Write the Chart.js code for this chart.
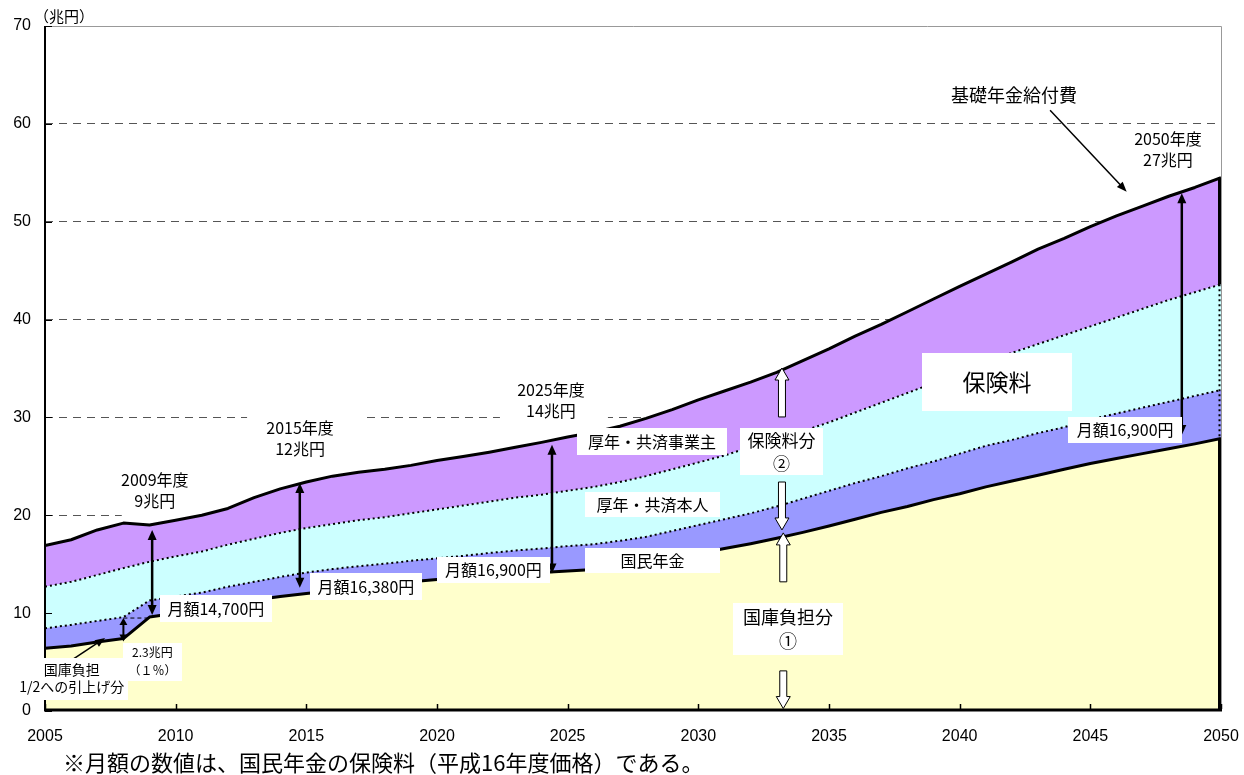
<!DOCTYPE html>
<html>
<head>
<meta charset="utf-8">
<script src="https://cdn.jsdelivr.net/npm/chart.js@4.4.1/dist/chart.umd.min.js"></script>
<style>
html,body{margin:0;padding:0;background:#fff;}
#wrap{width:1244px;height:775px;position:relative;}
</style>
</head>
<body>
<div id="wrap"><canvas id="c" width="1244" height="775"></canvas></div>
<script>
// ---- data (兆円) ----
const years = [2005,2006,2007,2008,2009,2010,2011,2012,2013,2014,2015,2016,2017,2018,2019,2020,2021,2022,2023,2024,2025,2026,2027,2028,2029,2030,2031,2032,2033,2034,2035,2036,2037,2038,2039,2040,2041,2042,2043,2044,2045,2046,2047,2048,2049,2050];
// 国庫負担分
const kokkoFutan = [6.4,6.65,7.05,7.4,9.6,10.0,10.5,11.0,11.35,11.7,12.0,12.3,12.6,12.9,13.2,13.45,13.65,13.85,14.0,14.15,14.3,14.45,14.8,15.2,15.65,16.1,16.6,17.1,17.65,18.25,18.9,19.6,20.3,20.9,21.6,22.2,22.9,23.5,24.1,24.7,25.3,25.8,26.3,26.8,27.3,27.85];
// 国民年金
const kokuminNenkin = [2.05,2.15,2.15,2.2,1.7,1.7,1.6,1.7,1.85,2.0,2.15,2.2,2.2,2.15,2.15,2.15,2.2,2.3,2.4,2.45,2.55,2.6,2.6,2.6,2.75,2.9,3.0,3.1,3.25,3.45,3.6,3.7,3.7,3.9,3.9,4.1,4.2,4.2,4.3,4.3,4.5,4.6,4.7,4.8,4.9,4.95];
// 厚年・共済本人
const kouseiHonnin = [4.25,4.4,4.7,5.0,3.95,4.1,4.2,4.3,4.4,4.5,4.55,4.6,4.7,4.75,4.85,5.0,5.15,5.25,5.4,5.5,5.65,5.85,6.0,6.2,6.3,6.4,6.5,6.8,6.9,6.9,7.0,7.2,7.5,7.7,8.0,8.2,8.5,8.9,9.1,9.4,9.5,9.8,10.1,10.4,10.6,10.8];
// 厚年・共済事業主
const kouseiJigyounushi = [4.2,4.3,4.6,4.6,3.75,3.7,3.7,3.7,4.2,4.5,4.7,4.9,4.9,4.9,4.9,5.0,5.0,5.05,5.15,5.35,5.5,5.6,5.7,5.9,6.1,6.4,6.6,6.6,6.8,7.2,7.5,7.8,8.0,8.3,8.6,8.9,9.05,9.3,9.7,9.9,10.2,10.4,10.5,10.6,10.7,10.9];

const seriesNames = ['国庫負担分','国民年金','厚年・共済本人','厚年・共済事業主'];
const xTicks = [2005,2010,2015,2020,2025,2030,2035,2040,2045,2050];
const yTicks = [0,10,20,30,40,50,60,70];

// ---- annotations (anchors in data units) ----
const yearNotes = [
  {x:2009.2,  y:22.58, lines:['2009年度','9兆円'],  box:{dx:6, w:78,  h:54}},
  {x:2014.76, y:27.85, lines:['2015年度','12兆円'], box:{dx:6, w:118, h:50}},
  {x:2024.36, y:31.78, lines:['2025年度','14兆円'], box:{dx:3, w:108, h:50}},
  {x:2047.97, y:57.43, lines:['2050年度','27兆円']}
];
const boxNotes = [
  {x:2011.54, y:10.47, w:112, h:27, lines:['月額14,700円'], size:16},
  {x:2017.28, y:12.72, w:112, h:27, lines:['月額16,380円'], size:16},
  {x:2022.16, y:14.41, w:113, h:26, lines:['月額16,900円'], size:16},
  {x:2046.33, y:28.71, w:114, h:26, lines:['月額16,900円'], size:16},
  {x:2028.23, y:27.54, w:150, h:27, lines:['厚年・共済事業主'], size:16},
  {x:2028.25, y:21.10, w:135, h:25, lines:['厚年・共済本人'], size:16},
  {x:2028.25, y:15.38, w:135, h:25, lines:['国民年金'], size:16},
  {x:2033.18, y:26.51, w:83,  h:47, lines:['保険料分','②'], size:17, gap:23},
  {x:2033.43, y:8.38,  w:110, h:52, lines:['国庫負担分','①'], size:18, gap:24},
  {x:2041.43, y:33.62, w:150, h:58, lines:['保険料'], size:23},
  {x:2009.11, y:5.05,  w:59,  h:38, lines:['2.3兆円','（１％）'], size:12, gap:18},
  {x:2006.02, y:3.32,  w:112, h:42, lines:['国庫負担','1/2への引上げ分'], size:14, gap:17}
];
const dblArrows = [
  {x:2009.1,  from:9.8,   to:18.5},
  {x:2014.75, from:12.6,  to:23.3},
  {x:2024.4,  from:14.05, to:27.2},
  {x:2048.5,  from:28.2,  to:52.9},
  {x:2008.0,  from:7.1,   to:9.5, small:true}
];
const lineArrows = [
  {x1:2005.83, y1:4.87, x2:2007.3,  y2:7.46},
  {x1:2043.46, y1:61.4, x2:2046.39, y2:53.07}
];
const blockArrows = [
  {x:2033.2,  base:30.05, tip:35.05},
  {x:2033.2,  base:23.4,  tip:18.5},
  {x:2033.25, base:13.2,  tip:18.2},
  {x:2033.25, base:4.1,   tip:0.25}
];
const refLine = {x1:2008.0, x2:2009.0, y:9.5};
const caption = '※月額の数値は、国民年金の保険料（平成16年度価格）である。';
const unitLabel = '（兆円）';

const JP = '"Noto Sans CJK JP", "Noto Sans", sans-serif';
const NUM = '"Liberation Sans", Arial, sans-serif';

function drawLines(ctx, cx, cy, lines, size, gap) {
  ctx.font = size + 'px ' + JP;
  ctx.fillStyle = '#000';
  ctx.textAlign = 'center';
  ctx.textBaseline = 'middle';
  const g = gap || size * 1.3;
  const n = lines.length;
  lines.forEach((t, i) => ctx.fillText(t, cx, cy + (i - (n - 1) / 2) * g));
}
function head(ctx, x1, y1, x2, y2, len, half) {
  const a = Math.atan2(y2 - y1, x2 - x1);
  const bx = x2 - len * Math.cos(a), by = y2 - len * Math.sin(a);
  ctx.beginPath();
  ctx.moveTo(x2, y2);
  ctx.lineTo(bx + half * Math.sin(a), by - half * Math.cos(a));
  ctx.lineTo(bx - half * Math.sin(a), by + half * Math.cos(a));
  ctx.closePath();
  ctx.fill();
}

const annotate = {
  id: 'annotate',
  beforeDatasetsDraw(chart) {
    const ctx = chart.ctx, X = chart.scales.x, Y = chart.scales.y;
    ctx.save();
    yearNotes.forEach(n => {
      const cx = X.getPixelForValue(n.x), cy = Y.getPixelForValue(n.y);
      if (n.box) {
        ctx.fillStyle = '#fff';
        ctx.fillRect(cx + n.box.dx - n.box.w / 2, cy - n.box.h / 2, n.box.w, n.box.h);
      }
      drawLines(ctx, cx, cy, n.lines, 16, 21);
    });
    ctx.restore();
  },
  afterDatasetsDraw(chart) {
    const ctx = chart.ctx, X = chart.scales.x, Y = chart.scales.y, A = chart.chartArea;
    ctx.save();
    // right-edge outlines of the series
    const last = years.length - 1;
    const pt = i => chart.getDatasetMeta(i).data[last];
    const ex = A.right - 1.5;
    ctx.strokeStyle = '#000';
    ctx.lineWidth = 3;
    ctx.beginPath(); ctx.moveTo(ex, pt(3).y); ctx.lineTo(ex, pt(2).y); ctx.stroke();
    ctx.beginPath(); ctx.moveTo(ex, pt(0).y); ctx.lineTo(ex, A.bottom); ctx.stroke();
    ctx.lineWidth = 2; ctx.setLineDash([2, 3]);
    ctx.beginPath(); ctx.moveTo(ex, pt(2).y); ctx.lineTo(ex, pt(0).y); ctx.stroke();
    ctx.setLineDash([]);
    // frame (top / right) in grey
    ctx.strokeStyle = '#999'; ctx.lineWidth = 1;
    ctx.beginPath(); ctx.moveTo(A.left, A.top + 0.5); ctx.lineTo(A.right + 0.5, A.top + 0.5); ctx.lineTo(A.right + 0.5, A.bottom); ctx.stroke();
    // axes
    ctx.strokeStyle = '#000';
    ctx.lineWidth = 2;
    ctx.beginPath(); ctx.moveTo(A.left, A.top); ctx.lineTo(A.left, A.bottom); ctx.stroke();
    ctx.lineWidth = 3;
    ctx.beginPath(); ctx.moveTo(A.left - 1, A.bottom - 1); ctx.lineTo(A.right + 1, A.bottom - 1); ctx.stroke();
    // inside tick marks
    ctx.lineWidth = 1.5;
    xTicks.forEach(v => {
      const x = Math.round(X.getPixelForValue(v)) + 0.5;
      ctx.beginPath(); ctx.moveTo(x, A.bottom - 2); ctx.lineTo(x, A.bottom - 7); ctx.stroke();
    });
    ctx.lineWidth = 1;
    yTicks.forEach(v => {
      const y = Math.round(Y.getPixelForValue(v)) + 0.5;
      ctx.beginPath(); ctx.moveTo(A.left, y); ctx.lineTo(A.left + 7, y); ctx.stroke();
    });
    // dashed reference line (2008-2009)
    ctx.lineWidth = 1; ctx.setLineDash([4, 3]);
    ctx.beginPath();
    ctx.moveTo(X.getPixelForValue(refLine.x1), Y.getPixelForValue(refLine.y));
    ctx.lineTo(X.getPixelForValue(refLine.x2), Y.getPixelForValue(refLine.y));
    ctx.stroke();
    ctx.setLineDash([]);
    // double-headed arrows
    ctx.fillStyle = '#000';
    dblArrows.forEach(a => {
      const x = X.getPixelForValue(a.x), y1 = Y.getPixelForValue(a.from), y2 = Y.getPixelForValue(a.to);
      const len = a.small ? 7 : 10, half = a.small ? 4 : 4.5;
      ctx.lineWidth = a.small ? 2 : 2.5;
      ctx.beginPath(); ctx.moveTo(x, y1 - len + 2); ctx.lineTo(x, y2 + len - 2); ctx.stroke();
      head(ctx, x, y2, x, y1, len, half);
      head(ctx, x, y1, x, y2, len, half);
    });
    // straight arrows
    lineArrows.forEach(a => {
      const x1 = X.getPixelForValue(a.x1), y1 = Y.getPixelForValue(a.y1);
      const x2 = X.getPixelForValue(a.x2), y2 = Y.getPixelForValue(a.y2);
      const ang = Math.atan2(y2 - y1, x2 - x1);
      ctx.lineWidth = 1.5;
      ctx.beginPath(); ctx.moveTo(x1, y1); ctx.lineTo(x2 - 8 * Math.cos(ang), y2 - 8 * Math.sin(ang)); ctx.stroke();
      head(ctx, x1, y1, x2, y2, 10, 4);
    });
    // hollow block arrows
    blockArrows.forEach(a => {
      const cx = X.getPixelForValue(a.x), yb = Y.getPixelForValue(a.base), yt = Y.getPixelForValue(a.tip);
      const dir = yt < yb ? -1 : 1;
      const sw = 7, hw = 14, hl = 12;
      const yn = yt - dir * hl;
      ctx.beginPath();
      ctx.moveTo(cx - sw / 2, yb);
      ctx.lineTo(cx - sw / 2, yn);
      ctx.lineTo(cx - hw / 2, yn);
      ctx.lineTo(cx, yt);
      ctx.lineTo(cx + hw / 2, yn);
      ctx.lineTo(cx + sw / 2, yn);
      ctx.lineTo(cx + sw / 2, yb);
      ctx.closePath();
      ctx.fillStyle = '#fff'; ctx.fill();
      ctx.strokeStyle = '#000'; ctx.lineWidth = 1; ctx.stroke();
    });
    // white label boxes
    boxNotes.forEach(n => {
      const cx = X.getPixelForValue(n.x), cy = Y.getPixelForValue(n.y);
      ctx.fillStyle = '#fff';
      ctx.fillRect(Math.round(cx - n.w / 2), Math.round(cy - n.h / 2), n.w, n.h);
      drawLines(ctx, cx, cy, n.lines, n.size, n.gap);
    });
    ctx.restore();
  },
  afterDraw(chart) {
    const ctx = chart.ctx, X = chart.scales.x;
    ctx.save();
    drawLines(ctx, X.getPixelForValue(2042.08), chart.scales.y.getPixelForValue(62.95), ['基礎年金給付費'], 18);
    ctx.font = '15px ' + JP;
    ctx.fillStyle = '#000'; ctx.textAlign = 'left'; ctx.textBaseline = 'middle';
    ctx.fillText(unitLabel, 34, 16);
    ctx.font = '22px ' + JP;
    ctx.fillText(caption, 63, 763);
    ctx.restore();
  }
};

const mk = arr => years.map((x, i) => ({x: x, y: arr[i]}));
const solid = {borderColor: '#000', borderWidth: 3, borderJoinStyle: 'round'};
const dotted = {borderColor: '#000', borderWidth: 2, borderDash: [2, 3]};

new Chart(document.getElementById('c'), {
  type: 'line',
  data: {
    datasets: [
      Object.assign({label: seriesNames[0], data: mk(kokkoFutan), fill: 'origin', backgroundColor: '#FFFFCC'}, solid),
      Object.assign({label: seriesNames[1], data: mk(kokuminNenkin), fill: '-1', backgroundColor: '#9999FF'}, dotted),
      Object.assign({label: seriesNames[2], data: mk(kouseiHonnin), fill: '-1', backgroundColor: '#CCFFFF'}, dotted),
      Object.assign({label: seriesNames[3], data: mk(kouseiJigyounushi), fill: '-1', backgroundColor: '#CC99FF'}, solid)
    ]
  },
  options: {
    responsive: false,
    animation: false,
    devicePixelRatio: 1,
    layout: {padding: {left: 0, right: 23, top: 26, bottom: 0}},
    plugins: {legend: {display: false}, tooltip: {enabled: false}, title: {display: false}},
    elements: {line: {tension: 0}, point: {radius: 0, hoverRadius: 0}},
    scales: {
      x: {
        type: 'linear', min: 2005, max: 2050,
        afterBuildTicks: s => { s.ticks = xTicks.map(v => ({value: v})); },
        afterFit: s => { s.height = 64; s.paddingLeft = 0; s.paddingRight = 0; },
        grid: {display: false, drawTicks: false},
        border: {display: false},
        ticks: {padding: 16, maxRotation: 0, autoSkip: false, color: '#000', font: {family: NUM, size: 16}, callback: v => String(v)}
      },
      y: {
        stacked: true, min: 0, max: 70,
        afterBuildTicks: s => { s.ticks = yTicks.map(v => ({value: v})); },
        afterFit: s => { s.width = 45; s.paddingTop = 0; s.paddingBottom = 0; },
        grid: {drawTicks: false, lineWidth: 1, color: c => (c.tick && (c.tick.value === 0 || c.tick.value === 70)) ? 'rgba(0,0,0,0)' : '#555'},
        border: {display: false, dash: [8, 6]},
        ticks: {padding: 14, color: '#000', font: {family: NUM, size: 16}, callback: v => String(v)}
      }
    }
  },
  plugins: [annotate]
});
</script>
</body>
</html>
